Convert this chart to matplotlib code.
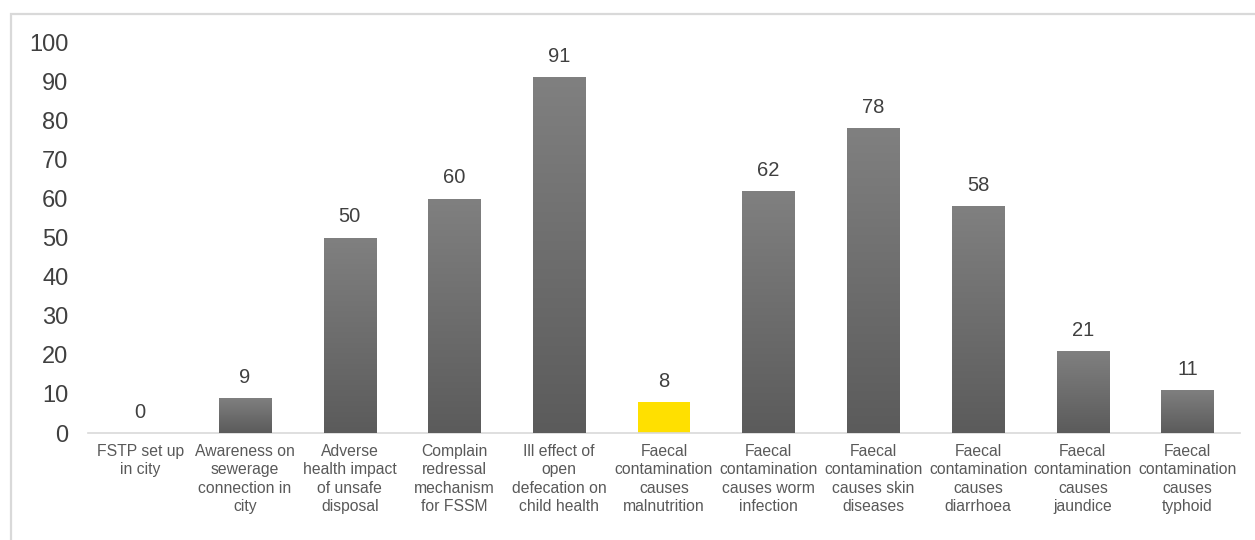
import numpy as np
import matplotlib
matplotlib.use("Agg")
import matplotlib.pyplot as plt
from matplotlib.patches import Rectangle

plt.rcParams['font.family'] = ['Liberation Sans', 'DejaVu Sans']

categories = [
    "FSTP set up\nin city",
    "Awareness on\nsewerage\nconnection in\ncity",
    "Adverse\nhealth impact\nof unsafe\ndisposal",
    "Complain\nredressal\nmechanism\nfor FSSM",
    "Ill effect of\nopen\ndefecation on\nchild health",
    "Faecal\ncontamination\ncauses\nmalnutrition",
    "Faecal\ncontamination\ncauses worm\ninfection",
    "Faecal\ncontamination\ncauses skin\ndiseases",
    "Faecal\ncontamination\ncauses\ndiarrhoea",
    "Faecal\ncontamination\ncauses\njaundice",
    "Faecal\ncontamination\ncauses\ntyphoid",
]
values = [0, 9, 50, 60, 91, 8, 62, 78, 58, 21, 11]
highlight = "Faecal\ncontamination\ncauses\nmalnutrition"
y_ticks = list(range(0, 101, 10))

fig = plt.figure(figsize=(12.55, 5.4), dpi=100)
ax = fig.add_axes([0.070, 0.198, 0.918, 0.724])

# light outer frame of the chart area
fig.patches.append(Rectangle((11 / 1255, -0.05), 1.2, 1 - 14 / 540 + 0.05,
                             transform=fig.transFigure, fill=False,
                             edgecolor="#d9d9d9", linewidth=1.6, zorder=0))

x = np.arange(len(categories))
bars = ax.bar(x, values, width=0.5, color="#6e6e6e", zorder=2)

# vertical gray gradient inside each bar (lighter top, darker bottom)
grad = np.linspace(0, 1, 256).reshape(-1, 1)
cmap = matplotlib.colors.LinearSegmentedColormap.from_list("g", ["#5b5b5b", "#808080"])
for b, cat, v in zip(bars, categories, values):
    if cat == highlight:
        b.set_facecolor("#ffe000")
        continue
    if v <= 0:
        continue
    x0, w, h = b.get_x(), b.get_width(), b.get_height()
    im = ax.imshow(grad, extent=(x0, x0 + w, 0, h), origin="lower",
                   cmap=cmap, aspect="auto", zorder=3)
    im.set_clip_path(b)

for xi, v in zip(x, values):
    ax.annotate(f"{v}", (xi, v), xytext=(0, 8), textcoords="offset points",
                ha="center", va="bottom", fontsize=14.5, color="#404040")

ax.set_xlim(-0.5, len(categories) - 0.5)
ax.set_ylim(0, 100)
ax.set_yticks(y_ticks)
ax.set_xticks(x)
ax.set_xticklabels(categories, fontsize=11.3, color="#595959", linespacing=1.27)
ax.tick_params(axis="x", length=0, pad=8)
ax.tick_params(axis="y", length=0, pad=14, labelsize=17, labelcolor="#404040")

for s in ["top", "right", "left"]:
    ax.spines[s].set_visible(False)
ax.spines["bottom"].set_color("#d9d9d9")
ax.spines["bottom"].set_linewidth(1.2)

fig.savefig("out.png", dpi=100)
